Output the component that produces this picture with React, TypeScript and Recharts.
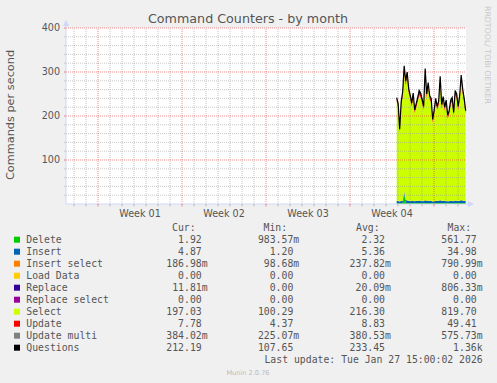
import React from 'react';
import {
  ComposedChart, Area, Line, XAxis, YAxis, ReferenceLine, CartesianGrid,
} from 'recharts';

// samples every 3h, days counted from the start of week 04
const START_DAY = 3.89;
const STEP_DAY = 0.125;

const questions = [
  242, 228, 170, 232, 255, 314, 280, 300, 262, 248,
  230, 252, 214, 228, 242, 258, 252, 238, 222, 308,
  250, 276, 246, 240, 192, 214, 240, 222, 234, 290,
  226, 244, 220, 236, 202, 212, 236, 242, 208, 258,
  250, 222, 246, 293, 262, 240, 212,
];
const selectCmd = [
  226, 213, 157, 216, 238, 273, 260, 280, 245, 232,
  214, 235, 200, 212, 226, 240, 235, 222, 207, 287,
  233, 257, 230, 224, 179, 199, 224, 207, 218, 270,
  210, 228, 205, 220, 188, 197, 220, 226, 193, 240,
  233, 206, 230, 273, 244, 224, 197,
];
const update = [
  8, 7, 6, 8, 9, 12, 10, 11, 9, 8,
  8, 9, 7, 8, 8, 9, 9, 8, 7, 11,
  9, 10, 8, 8, 6, 7, 8, 7, 8, 10,
  8, 8, 7, 8, 7, 7, 8, 8, 7, 9,
  9, 8, 8, 10, 9, 8, 7.8,
];
const deleteCmd = [
  2, 2, 1.5, 2, 2, 22, 3, 2, 2, 2,
  2, 2, 1.5, 2, 2, 2, 2, 2, 1.5, 2.5,
  2, 2, 2, 2, 1.5, 2, 2, 2, 2, 2.5,
  2, 2, 2, 2, 1.5, 2, 2, 2, 2, 2,
  2, 2, 2, 2.5, 2, 2, 1.9,
];
const insert = [
  5, 5, 4, 5, 5, 6, 6, 6, 5, 5,
  5, 5, 4.5, 5, 5, 5.5, 5, 5, 5, 6,
  5, 5.5, 5, 5, 4, 4.5, 5, 5, 5, 6,
  5, 5, 5, 5, 4.5, 4.5, 5, 5, 4.5, 5.5,
  5, 5, 5, 6, 5.5, 5, 4.9,
];
const insertSelect = [
  0.2, 0.2, 0.1, 0.2, 0.3, 0.8, 0.3, 0.4, 0.2, 0.2,
  0.2, 0.3, 0.1, 0.2, 0.2, 0.3, 0.2, 0.2, 0.2, 0.4,
  0.2, 0.3, 0.2, 0.2, 0.1, 0.2, 0.2, 0.2, 0.2, 0.4,
  0.2, 0.2, 0.2, 0.2, 0.1, 0.2, 0.2, 0.2, 0.2, 0.3,
  0.2, 0.2, 0.2, 0.3, 0.3, 0.2, 0.19,
];
const replace = [
  0.02, 0.02, 0.01, 0.02, 0.03, 0.8, 0.03, 0.04, 0.02, 0.02,
  0.02, 0.03, 0.01, 0.02, 0.02, 0.03, 0.02, 0.02, 0.02, 0.04,
  0.02, 0.03, 0.02, 0.02, 0.01, 0.02, 0.02, 0.02, 0.02, 0.04,
  0.02, 0.02, 0.02, 0.02, 0.01, 0.02, 0.02, 0.02, 0.02, 0.03,
  0.02, 0.02, 0.02, 0.03, 0.03, 0.02, 0.01,
];
const updateMulti = [
  0.4, 0.4, 0.3, 0.4, 0.4, 0.5, 0.4, 0.5, 0.4, 0.4,
  0.4, 0.4, 0.3, 0.4, 0.4, 0.4, 0.4, 0.4, 0.3, 0.5,
  0.4, 0.4, 0.4, 0.4, 0.3, 0.3, 0.4, 0.4, 0.4, 0.5,
  0.4, 0.4, 0.4, 0.4, 0.3, 0.3, 0.4, 0.4, 0.3, 0.4,
  0.4, 0.4, 0.4, 0.5, 0.4, 0.4, 0.38,
];

const weekLabels = ['Week 01', 'Week 02', 'Week 03', 'Week 04'];
const weekLabelDays = [-17.5, -10.5, -3.5, 3.5];
const weekLineDays = [-21, -14, -7, 0, 7];
const dayTicks = [
  -23, -22, -21, -20, -19, -18, -17, -16, -15, -14, -13, -12, -11, -10, -9, -8, -7,
  -6, -5, -4, -3, -2, -1, 0, 1, 2, 3, 4, 5, 6, 7, 8, 9,
];
const yTicks = [20, 40, 60, 80, 100, 120, 140, 160, 180, 200, 220, 240, 260, 280, 300, 320, 340, 360, 380, 400];
const yLabelTicks = [100, 200, 300, 400];

const legendNames = ['Delete', 'Insert', 'Insert select', 'Load Data', 'Replace', 'Replace select', 'Select', 'Update', 'Update multi', 'Questions'];
const legendColors = ['#00CC00', '#0066B3', '#FF8000', '#FFCC00', '#330099', '#990099', '#CCFF00', '#FF0000', '#808080', '#000000'];
const curValues = ['1.92', '4.87', '186.98m', '0.00', '11.81m', '0.00', '197.03', '7.78', '384.02m', '212.19'];
const minValues = ['983.57m', '1.20', '98.68m', '0.00', '0.00', '0.00', '100.29', '4.37', '225.07m', '107.65'];
const avgValues = ['2.32', '5.36', '237.82m', '0.00', '20.09m', '0.00', '216.30', '8.83', '380.53m', '233.45'];
const maxValues = ['561.77', '34.98', '790.99m', '0.00', '806.33m', '0.00', '819.70', '49.41', '575.73m', '1.36k'];

const FONT = '#555';
const AXIS = '#CFD6F8';
const MINOR = '#999';
const MAJOR = '#e03030';
const SANS = '"DejaVu Sans", sans-serif';
const MONO = '"DejaVu Sans Mono", monospace';

const rows = questions.map((q, i) => ({
  day: START_DAY + i * STEP_DAY,
  del: deleteCmd[i],
  ins: insert[i],
  insSel: insertSelect[i],
  repl: replace[i],
  sel: selectCmd[i],
  upd: update[i],
  updMulti: updateMulti[i],
  questions: q,
}));

const XTick = (props: any) => {
  const { x, y, payload } = props;
  const v = payload.value;
  const li = weekLabelDays.indexOf(v);
  if (li >= 0) {
    return (
      <text x={x} y={y + 12.5} textAnchor="middle" fontSize={9.6} fontFamily={SANS} fill={FONT}>
        {weekLabels[li]}
      </text>
    );
  }
  const major = weekLineDays.includes(v);
  return <line x1={x} x2={x} y1={y} y2={y + 2.5} stroke={major ? '#f08080' : '#bbb'} />;
};

const YTick = (props: any) => {
  const { x, y, payload } = props;
  const v = payload.value;
  const major = yLabelTicks.includes(v);
  return (
    <g>
      <line x1={x - 2} x2={x} y1={y} y2={y} stroke={major ? '#f08080' : '#ccc'} />
      {major && (
        <text x={x - 6} y={y + 3.4} textAnchor="end" fontSize={9.6} fontFamily={SANS} fill={FONT}>
          {v}
        </text>
      )}
    </g>
  );
};

const colX = [201.7, 293.3, 385, 476.7];
const headX = [172, 263.5, 356, 447.5];
const heads = ['Cur:', 'Min:', 'Avg:', 'Max:'];

const ValueCell = ({ x, y, value }: { x: number; y: number; value: string }) => {
  const last = value[value.length - 1];
  const hasSuffix = last === 'm' || last === 'k';
  const num = hasSuffix ? value.slice(0, -1) : value;
  return (
    <g>
      <text x={x} y={y} textAnchor="end">{num}</text>
      {hasSuffix && <text x={x} y={y}>{last}</text>}
    </g>
  );
};

const App: React.FC = () => {
  const columns = [curValues, minValues, avgValues, maxValues];
  return (
    <div style={{ position: 'absolute', left: 0, top: 0, width: 497, height: 383, background: '#F0F0F0' }}>
      <div style={{ position: 'absolute', left: 0, top: 0 }}>
        <ComposedChart width={497} height={383} data={rows} margin={{ top: 28, right: 31, bottom: 159, left: 26 }}>
          <CartesianGrid fill="#FFFFFF" stroke="none" horizontal={false} vertical={false} />
          <XAxis
            type="number"
            dataKey="day"
            domain={[-23.667, 9.667]}
            ticks={[...dayTicks, ...weekLabelDays]}
            interval={0}
            tickSize={0}
            tickMargin={0}
            height={20}
            axisLine={{ stroke: AXIS }}
            tickLine={false}
            tick={(p: any) => <XTick {...p} />}
          />
          <YAxis
            type="number"
            domain={[0, 400]}
            ticks={yTicks}
            interval={0}
            tickSize={0}
            tickMargin={0}
            width={40}
            axisLine={{ stroke: AXIS }}
            tickLine={false}
            tick={(p: any) => <YTick {...p} />}
          />
          <Area type="linear" dataKey="del" stackId="s" stroke="none" fill="#00CC00" fillOpacity={1} isAnimationActive={false} activeDot={false} />
          <Area type="linear" dataKey="ins" stackId="s" stroke="none" fill="#0066B3" fillOpacity={1} isAnimationActive={false} activeDot={false} />
          <Area type="linear" dataKey="insSel" stackId="s" stroke="none" fill="#FF8000" fillOpacity={1} isAnimationActive={false} activeDot={false} />
          <Area type="linear" dataKey="repl" stackId="s" stroke="none" fill="#330099" fillOpacity={1} isAnimationActive={false} activeDot={false} />
          <Area type="linear" dataKey="sel" stackId="s" stroke="none" fill="#CCFF00" fillOpacity={1} isAnimationActive={false} activeDot={false} />
          <Area type="linear" dataKey="upd" stackId="s" stroke="none" fill="#FF0000" fillOpacity={1} isAnimationActive={false} activeDot={false} />
          <Area type="linear" dataKey="updMulti" stackId="s" stroke="none" fill="#808080" fillOpacity={1} isAnimationActive={false} activeDot={false} />
          {dayTicks.filter((d) => !weekLineDays.includes(d)).map((d) => (
            <ReferenceLine key={`vx${d}`} x={d} stroke={MINOR} strokeOpacity={0.55} strokeDasharray="1 1" />
          ))}
          {yTicks.filter((v) => !yLabelTicks.includes(v)).map((v) => (
            <ReferenceLine key={`hy${v}`} y={v} stroke={MINOR} strokeOpacity={0.55} strokeDasharray="1 1" />
          ))}
          {weekLineDays.map((d) => (
            <ReferenceLine key={`wx${d}`} x={d} stroke={MAJOR} strokeOpacity={0.55} strokeDasharray="1 1" />
          ))}
          {yLabelTicks.map((v) => (
            <ReferenceLine key={`my${v}`} y={v} stroke={MAJOR} strokeOpacity={0.55} strokeDasharray="1 1" />
          ))}
          <Line type="linear" dataKey="questions" stroke="#000000" strokeWidth={1.2} dot={false} activeDot={false} isAnimationActive={false} />
        </ComposedChart>
      </div>
      <svg width={497} height={383} style={{ position: 'absolute', left: 0, top: 0, pointerEvents: 'none' }}>
        <text x={248} y={23} textAnchor="middle" fontSize={12.7} fontFamily={SANS} fill={FONT}>
          Command Counters - by month
        </text>
        <text x={14} y={115} transform="rotate(-90 14 115)" textAnchor="middle" fontSize={11.3} fontFamily={SANS} fill={FONT}>
          Commands per second
        </text>
        <text x={484.5} y={6} transform="rotate(90 484.5 6)" fontSize={7.8} fontFamily={SANS} fill="#c8c8c8">
          RRDTOOL/ TOBI OETIKER
        </text>
        <line x1={66} x2={66} y1={28} y2={25} stroke={AXIS} />
        <polygon points="63,26 69,26 66,20" fill={AXIS} />
        <line x1={466} x2={469} y1={204} y2={204} stroke={AXIS} />
        <polygon points="468,201 468,207 474,204" fill={AXIS} />
        <g fontFamily={MONO} fontSize={9.8} fill={FONT}>
          {heads.map((h, i) => (
            <text key={h} x={headX[i]} y={231}>{h}</text>
          ))}
          {legendNames.map((name, r) => {
            const cy = 239.7 + r * 12;
            return (
              <g key={name}>
                <rect x={14} y={cy - 3} width={6} height={6} fill={legendColors[r]} />
                <text x={26.3} y={cy + 3.5}>{name}</text>
                {columns.map((col, c) => (
                  <ValueCell key={c} x={colX[c]} y={cy + 3.5} value={col[r]} />
                ))}
              </g>
            );
          })}
          <text x={482.7} y={363.2} textAnchor="end">Last update: Tue Jan 27 15:00:02 2026</text>
        </g>
        <text x={248} y={374.5} textAnchor="middle" fontSize={6.6} fontFamily={SANS} fill="#bbb">
          Munin 2.0.76
        </text>
      </svg>
    </div>
  );
};

export default App;
